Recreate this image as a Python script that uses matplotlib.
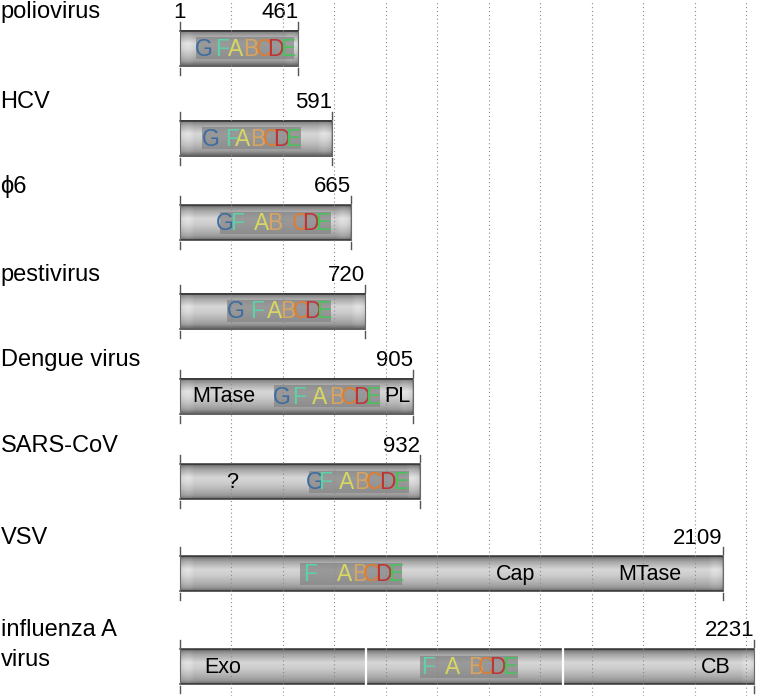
import numpy as np
import matplotlib
matplotlib.use("Agg")
import matplotlib.pyplot as plt
from matplotlib.patches import Rectangle

plt.rcParams["font.family"] = ["Liberation Sans", "DejaVu Sans"]

viruses = ["poliovirus", "HCV", "\u03d56", "pestivirus", "Dengue virus",
           "SARS-CoV", "VSV", "influenza A\nvirus"]
lengths = [461, 591, 665, 720, 905, 932, 2109, 2231]

motif_letters = ["G", "F", "A", "B", "C", "D", "E"]
motif_colors = ["#3d6ca3", "#5cd2a6", "#d8d662", "#d8a462", "#e07c30", "#be3434", "#48c25c"]

# positions (aa) of motifs G F A B C D E, None = absent
motif_pos = [
    [95, 165, 219, 278, 328, 371, 421],
    [122, 204, 243, 305, 355, 394, 441],
    [177, 223, 320, 370, 467, 510, 557],
    [219, 301, 371, 421, 472, 515, 561],
    [398, 464, 545, 612, 658, 705, 751],
    [526, 565, 650, 709, 755, 806, 860],
    [None, 508, 640, 701, 744, 790, 841],
    [None, 965, 1062, 1151, 1190, 1233, 1284],
]
motif_box = [(64, 444), (87, 472), (157, 588), (185, 589), (367, 779),
             (503, 891), (468, 864), (934, 1315)]

# other domain labels: (row, position, text)
domain_labels = [(4, 170, "MTase"), (4, 845, "PL"), (5, 204, "?"),
                 (6, 1303, "Cap"), (6, 1827, "MTase"),
                 (7, 169, "Exo"), (7, 2083, "CB")]
segment_breaks = [725, 1490]  # influenza A PA segments

grid_ticks = np.arange(200, 2201, 200)

# layout (pixel space)
W, H = 774, 696
PX = 0.2575
x0 = 179.8
row_y = [48, 138, 222.5, 311, 396, 481.5, 573.5, 666.5]
bar_h = 35

fig = plt.figure(figsize=(W / 100, H / 100), dpi=100)
ax = fig.add_axes([0, 0, 1, 1])
xmin = 1 - x0 / PX
xmax = 1 + (W - x0) / PX

vprof_f = [0, 0.06, 0.15, 0.38, 0.55, 0.75, 0.9, 1.0]
vprof_v = [0.34, 0.52, 0.64, 0.84, 0.80, 0.70, 0.60, 0.42]
vy = np.interp(np.linspace(0, 1, 60), vprof_f, vprof_v)


def bar(start, end, yc):
    n = max(int((end - start) * PX), 4)
    d = np.arange(n)
    h = np.ones(n)
    for dist in (d, n - 1 - d):
        h = np.where(dist < 1, 0.85, h)
        m = (dist >= 1) & (dist < 14)
        h = np.where(m, 1 + 0.06 * np.sin(np.pi * (dist - 1) / 13), h)
    img = np.clip(vy[:, None] * h[None, :], 0, 1)
    ax.imshow(img, cmap="gray", vmin=0, vmax=1, aspect="auto",
              interpolation="bilinear",
              extent=(start, end, yc + bar_h / 2, yc - bar_h / 2), zorder=1)
    for yy in (yc - bar_h / 2, yc + bar_h / 2):
        ax.plot([start, end], [yy, yy], color="#333333", lw=1.1, zorder=2)
    for xx in (start, end):
        ax.plot([xx, xx], [yc - bar_h / 2, yc + bar_h / 2], color="#6a6a6a", lw=0.8, zorder=2)


for i, (name, L) in enumerate(zip(viruses, lengths)):
    yc = row_y[i]
    bar(1, L, yc)
    # end ticks
    for xx in (1, L):
        ax.plot([xx, xx], [yc - bar_h / 2 - 9, yc - bar_h / 2 - 2], color="#555555", lw=1, zorder=2)
        ax.plot([xx, xx], [yc + bar_h / 2 + 2, yc + bar_h / 2 + 9], color="#555555", lw=1, zorder=2)
    # name
    for k, line in enumerate(name.split("\n")):
        ax.text(xmin + 2, yc - 30 + k * 30, line, fontsize=17, ha="left", va="baseline")
    ax.text(L, yc - 30, str(L), fontsize=16, ha="right", va="baseline")
    # motif box
    b0, b1 = motif_box[i]
    ax.add_patch(Rectangle((b0, yc - 11), b1 - b0, 22, color="#858585", alpha=0.75, lw=0, zorder=3))
    for let, col, p in zip(motif_letters, motif_colors, motif_pos[i]):
        if p is None:
            continue
        ax.text(p, yc + 1, let, color=col, fontsize=16.5, ha="center", va="center",
                family=["Liberation Sans Narrow", "Liberation Sans"], zorder=4)

ax.text(1, row_y[0] - 30, "1", fontsize=16, ha="center", va="baseline")

for r, p, t in domain_labels:
    ax.text(p, row_y[r] + 1, t, fontsize=15.5, ha="center", va="center", zorder=4)

for sb in segment_breaks:
    yc = row_y[7]
    ax.plot([sb, sb], [yc - bar_h / 2, yc + bar_h / 2], color="white", lw=1.6, zorder=3)

for g in grid_ticks:
    ax.axvline(g, color="#8a8a8a", lw=0.8, ls=(0, (1, 2.5)), zorder=3.5)

ax.set_xlim(xmin, xmax)
ax.set_ylim(H, 0)
ax.axis("off")

fig.savefig("out.png", dpi=100, facecolor="white")
